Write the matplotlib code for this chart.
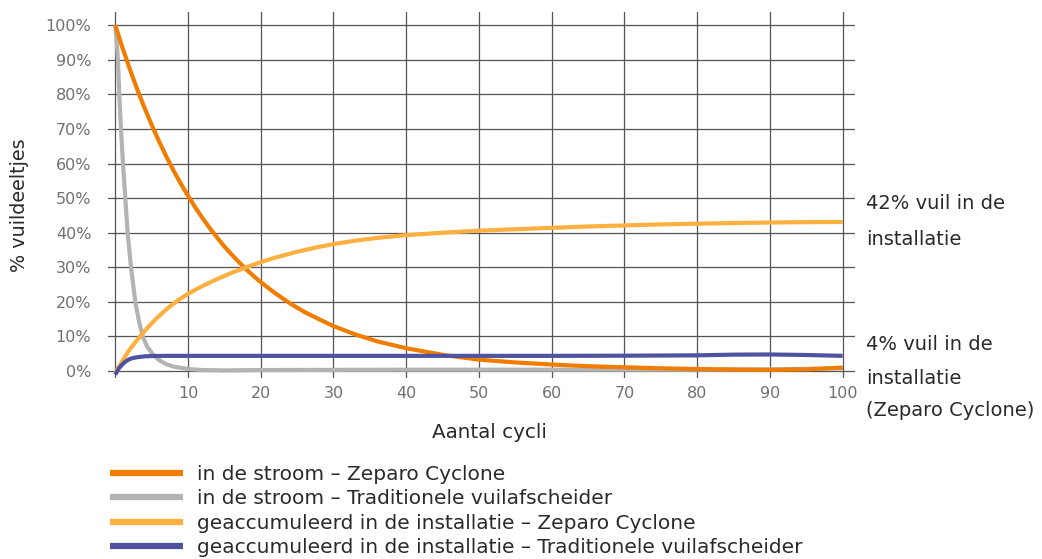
import numpy as np
import matplotlib
matplotlib.use("Agg")
import matplotlib.pyplot as plt
from matplotlib.lines import Line2D

plt.rcParams['font.family'] = ['DejaVu Sans']

# --- data ---
x_stroom_zep = [0, 1, 2, 3, 4, 5, 6, 7, 8, 9, 10, 11, 12, 13, 14, 15, 16, 17, 18, 19, 20, 22, 24, 26,
                28, 30, 33, 36, 40, 45, 50, 55, 60, 65, 70, 75, 80, 85, 90, 95, 100]
stroom_zep = [100, 93.4, 87.3, 81.5, 76.2, 71.2, 66.5, 62.1, 58.0, 54.2, 50.7, 47.3, 44.2, 41.3, 38.6,
              36.0, 33.7, 31.5, 29.4, 27.5, 25.7, 22.5, 19.6, 17.1, 15.0, 13.0, 10.6, 8.6, 6.6, 4.7,
              3.3, 2.5, 1.9, 1.4, 1.1, 0.8, 0.6, 0.45, 0.35, 0.5, 1.0]
x_accu_zep = [0, 0.5, 1, 1.5, 2, 3, 4, 5, 6, 7, 8, 9, 10, 11, 12, 14, 16, 18, 20, 22, 25, 28, 30, 33,
              36, 40, 45, 50, 55, 60, 65, 70, 75, 80, 85, 90, 95, 100]
accu_zep = [-0.5, 1.3, 3.0, 4.7, 6.3, 9.0, 11.5, 13.8, 15.9, 17.8, 19.5, 21.0, 22.3, 23.5, 24.6, 26.6,
            28.4, 30.0, 31.5, 32.8, 34.5, 35.9, 36.7, 37.7, 38.5, 39.3, 40.0, 40.6, 41.0, 41.4, 41.8,
            42.1, 42.4, 42.6, 42.8, 42.95, 43.05, 43.1]

x_stroom_trad = [0, 0.1, 0.2, 0.37, 0.55, 0.78, 1.06, 1.38, 1.7, 2.16, 2.76, 3.2, 3.77, 4.4, 5.1, 6,
                 7, 8, 10, 12, 15, 20, 30, 40, 50, 60, 70, 80, 90, 100]
stroom_trad = [100, 97.5, 95, 90, 80, 70, 60, 50, 40, 30, 20, 15, 10, 7, 5, 3.2, 2, 1.3, 0.6, 0.3,
               0.2, 0.3, 0.35, 0.4, 0.4, 0.4, 0.4, 0.4, 0.5, 0.8]
x_accu_trad = [0, 0.5, 1, 1.5, 2, 2.5, 3, 4, 5, 7, 10, 20, 30, 40, 50, 60, 70, 75, 80, 85, 90, 95, 100]
accu_trad = [-1, 0.8, 2, 2.9, 3.5, 3.8, 4.0, 4.25, 4.35, 4.4, 4.4, 4.4, 4.4, 4.4, 4.4, 4.4, 4.45,
             4.5, 4.55, 4.75, 4.8, 4.65, 4.4]

labels = ["in de stroom – Zeparo Cyclone",
          "in de stroom – Traditionele vuilafscheider",
          "geaccumuleerd in de installatie – Zeparo Cyclone",
          "geaccumuleerd in de installatie – Traditionele vuilafscheider"]
colors = ["#F07D00", "#B3B3B3", "#FBB040", "#4F53A0"]
x_ticks = list(range(0, 101, 10))
x_ticklabels = [""] + [str(v) for v in range(10, 101, 10)]
y_ticks = list(range(0, 101, 10))
y_ticklabels = [f"{v}%" for v in y_ticks]

W, H = 1042, 559
fig = plt.figure(figsize=(W / 100, H / 100), dpi=100)
ax = fig.add_axes([108 / W, 1 - 378 / H, (855 - 108) / W, (378 - 12) / H])
ax.set_xlim(-1, 101.7)
ax.set_ylim(-2, 103.8)

ax.plot(x_stroom_trad, stroom_trad, color=colors[1], lw=3, zorder=3, solid_capstyle="butt")
ax.plot(x_stroom_zep, stroom_zep, color=colors[0], lw=3, zorder=4, solid_capstyle="butt")
ax.plot(x_accu_zep, accu_zep, color=colors[2], lw=3, zorder=5, solid_capstyle="butt")
ax.plot(x_accu_trad, accu_trad, color=colors[3], lw=3, zorder=6, solid_capstyle="butt")

ax.set_xticks(x_ticks); ax.set_xticklabels(x_ticklabels)
ax.set_yticks(y_ticks); ax.set_yticklabels(y_ticklabels)
ax.tick_params(length=0, labelsize=11.5, colors="#707070")
ax.tick_params(axis="y", pad=12)
ax.tick_params(axis="x", pad=6)
ax.grid(True, color="#555555", lw=0.9)
ax.set_axisbelow(True)
for s in ax.spines.values():
    s.set_visible(False)

fig.text(20 / W, 1 - 205 / H, "% vuildeeltjes", rotation=90, ha="center", va="center",
         fontsize=13.8, color="#2a2a2a")
fig.text(489 / W, 1 - 432 / H, "Aantal cycli", ha="center", va="center", fontsize=14.3, color="#2a2a2a")

for txt, yy in [("42% vuil in de", 204), ("installatie", 240), ("4% vuil in de", 344),
                ("installatie", 378), ("(Zeparo Cyclone)", 410)]:
    fig.text(866 / W, 1 - yy / H, txt, ha="left", va="center", fontsize=14, color="#2a2a2a")

handles = [Line2D([], [], color=c, lw=4.5, solid_capstyle="butt") for c in colors]
fig.legend(handles, labels, loc="upper left", bbox_to_anchor=(110 / W, 1 - 465 / H),
           frameon=False, fontsize=14.5, handlelength=3.6, handletextpad=0.7, labelspacing=0.27,
           borderpad=0, borderaxespad=0, labelcolor="#2a2a2a")

fig.savefig("out.png", dpi=100)
